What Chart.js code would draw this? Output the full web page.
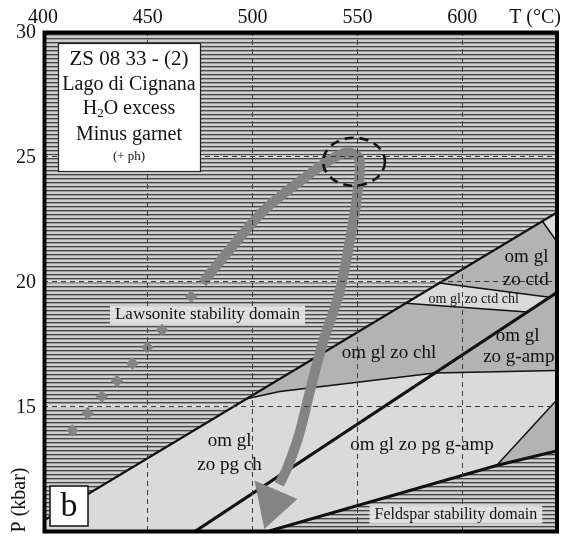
<!DOCTYPE html>
<html lang="en">
<head>
<meta charset="utf-8">
<title>P-T ZS 08 33</title>
<script src="https://cdn.jsdelivr.net/npm/chart.js@4.4.1/dist/chart.umd.min.js"></script>
<style>
  html, body { margin: 0; padding: 0; background: #fff; }
  .wrap { width: 563px; height: 550px; position: relative; }
</style>
</head>
<body>
<div class="wrap"><canvas id="chartPT" width="563" height="550"></canvas></div>
<script>
//Ejes
const T_MIN = 400, T_MAX = 645;
const P_MIN = 10, P_MAX = 30;
const tempTicks = [400, 450, 500, 550, 600];
const presTicks = [10, 15, 20, 25, 30];
const gridP = [15, 20, 25];

//Limites de campos [T °C, P kbar]
const lawsoniteOut = [[400, 10.4], [645, 22.73]];
const thickReaction = [[472.8, 10], [645, 19.53]];
const feldsparIn = [[508, 10], [616.4, 12.62], [645, 13.2]];
const chlOut = [[497.1, 15.29], [513, 15.58], [587, 16.32], [645, 16.42]];
const ctdChlLow = [[573, 19.11], [631, 18.76]];
const ctdChlHigh = [[589.2, 19.92], [641.7, 19.35]];
const cornerTop = [[638.3, 22.39], [645, 21.6]];
const cornerLow = [[616.4, 12.62], [645, 15.23]];

//Campos rellenos
const fieldLight = [[400, 10], [400, 10.4], [645, 22.73], [645, 13.2], [616.4, 12.62], [508, 10]];
const fieldChl = [[497.1, 15.29], [573, 19.11], [631, 18.76], [587, 16.32], [513, 15.58]];
const fieldCtd = [[589.2, 19.92], [638.3, 22.39], [645, 21.6], [645, 19.53], [641.7, 19.35]];
const fieldGamp = [[587, 16.32], [645, 19.53], [645, 16.42]];
const fieldCorner = [[616.4, 12.62], [645, 15.23], [645, 13.2]];

//Trayectoria P-T
const progradeDots = [[414.1, 14.02], [421.3, 14.71], [428.1, 15.38], [435.3, 16.0], [442.7, 16.7],
  [449.8, 17.35], [456.8, 18.04], [463.7, 18.72], [470.7, 19.38]];
const ptPath = [[476.1, 19.92], [491.3, 21.48], [505.6, 22.84], [522.3, 23.97], [536.5, 24.82],
  [545.1, 25.14], [550.8, 24.9], [549.9, 23.42], [546.1, 21.48], [541.4, 19.53], [533.7, 17.59],
  [527.5, 15.64], [522.3, 13.89], [516.6, 12.53], [512.7, 11.87]];
const arrowHead = [[500.9, 12.02], [505.6, 10.08], [521.4, 11.28]];
const peak = { t: 548.4, p: 24.77, halfT: 14.75, halfP: 0.96 };

//Etiquetas de campos [texto, T, P]
const fieldLabels = [
  ["om gl", 630.7, 20.97], ["zo ctd", 630.3, 20.04],
  ["om gl zo chl", 565.1, 17.12],
  ["om gl", 626.5, 17.78], ["zo g-amp", 627, 16.96],
  ["om gl zo pg g-amp", 580.8, 13.42],
  ["om gl", 489, 13.58], ["zo pg ch", 489, 12.65],
];
const thinLabel = ["om gl zo ctd chl", 605.5, 19.26];
const domainLabels = [
  ["Lawsonite stability domain", 478.5, 18.64],
  ["Feldspar stability domain", 597, 10.66],
];
const sampleLines = ["ZS 08 33 - (2)", "Lago di Cignana", "H2O excess", "Minus garnet", "(+ ph)"];

const SERIF = '"Liberation Serif", "Times New Roman", serif';
const LIGHT = "#dadada", MEDIUM = "#b3b3b3", PATH = "#848484";

const toXY = (pts) => pts.map(([x, y]) => ({ x, y }));

const polyDs = (pts, color, order) => ({
  data: toXY(pts), backgroundColor: color, borderColor: "rgba(0,0,0,0)", borderWidth: 0,
  fill: "shape", pointRadius: 0, tension: 0, order
});

const lineDs = (pts, width, order) => ({
  data: toXY(pts), borderColor: "#111", borderWidth: width, fill: false,
  pointRadius: 0, tension: 0, order
});

//Patron de rayas horizontales
const makeStripes = (ctx) => {
  const c = document.createElement("canvas");
  c.width = 4; c.height = 4;
  const g = c.getContext("2d");
  ["#d0d0d0", "#cbcbcb", "#464646", "#9c9c9c"].forEach((col, i) => {
    g.fillStyle = col;
    g.fillRect(0, i, 4, 1);
  });
  return ctx.createPattern(c, "repeat");
};

const backdrop = {
  id: "backdrop",
  beforeDraw(chart) {
    const { ctx, chartArea: a, scales: { y } } = chart;
    ctx.save();
    ctx.fillStyle = makeStripes(ctx);
    ctx.fillRect(a.left, a.top, a.right - a.left, a.bottom - a.top);
    //lineas claras bajo las isobaras
    ctx.strokeStyle = "#e4e4e4";
    ctx.lineWidth = 2;
    gridP.forEach((p) => {
      const yy = Math.round(y.getPixelForValue(p)) + 0.5;
      ctx.beginPath();
      ctx.moveTo(a.left, yy);
      ctx.lineTo(a.right, yy);
      ctx.stroke();
    });
    ctx.restore();
  }
};

const text = (ctx, str, x, y, size, align = "center") => {
  ctx.font = `${size}px ${SERIF}`;
  ctx.textAlign = align;
  ctx.textBaseline = "middle";
  ctx.fillStyle = "#111";
  ctx.fillText(str, x, y);
};

const overlay = {
  id: "overlay",
  afterDraw(chart) {
    const { ctx, chartArea: a, scales: { x, y } } = chart;
    const px = (t) => x.getPixelForValue(t);
    const py = (p) => y.getPixelForValue(p);
    ctx.save();

    //Elipse del pico
    ctx.beginPath();
    ctx.setLineDash([9, 6]);
    ctx.lineWidth = 2.6;
    ctx.strokeStyle = "#111";
    ctx.ellipse(px(peak.t), py(peak.p), px(peak.t + peak.halfT) - px(peak.t),
      py(peak.p) - py(peak.p + peak.halfP), 0, 0, Math.PI * 2);
    ctx.stroke();
    ctx.setLineDash([]);

    //Etiquetas de campos
    fieldLabels.forEach(([s, t, p]) => text(ctx, s, px(t), py(p), 19));
    text(ctx, thinLabel[0], px(thinLabel[1]), py(thinLabel[2]), 14);

    //Dominios con fondo claro
    domainLabels.forEach(([s, t, p], i) => {
      const size = i === 0 ? 17 : 16;
      ctx.font = `${size}px ${SERIF}`;
      const w = ctx.measureText(s).width + 10;
      ctx.fillStyle = "rgba(226,226,226,0.95)";
      ctx.fillRect(px(t) - w / 2, py(p) - 9, w, 18);
      text(ctx, s, px(t), py(p), size);
    });

    //Recuadro de la muestra
    const bx = a.left + 15, by = a.top + 12, bw = 142, bh = 128;
    ctx.fillStyle = "#fff";
    ctx.fillRect(bx, by, bw, bh);
    ctx.strokeStyle = "#222";
    ctx.lineWidth = 1.2;
    ctx.strokeRect(bx + 0.5, by + 0.5, bw, bh);
    const cx = bx + bw / 2;
    text(ctx, sampleLines[0], cx, by + 16, 21);
    text(ctx, sampleLines[1], cx, by + 42, 20);
    //H2O con subindice
    ctx.font = `20px ${SERIF}`;
    const wH = ctx.measureText("H").width, wO = ctx.measureText("O excess").width;
    ctx.font = `13px ${SERIF}`;
    const w2 = ctx.measureText("2").width;
    const x0 = cx - (wH + w2 + wO) / 2;
    text(ctx, "H", x0, by + 66, 20, "left");
    text(ctx, "2", x0 + wH, by + 71, 13, "left");
    text(ctx, "O excess", x0 + wH + w2, by + 66, 20, "left");
    text(ctx, sampleLines[3], cx, by + 92, 20);
    text(ctx, sampleLines[4], cx, by + 114, 13);

    //Letra del panel
    const lx = a.left + 7, ly = a.bottom - 45;
    ctx.fillStyle = "#fff";
    ctx.fillRect(lx, ly, 38, 40);
    ctx.strokeStyle = "#111";
    ctx.lineWidth = 1.5;
    ctx.strokeRect(lx, ly, 38, 40);
    text(ctx, "b", lx + 19, ly + 21, 34);

    //Marco
    ctx.lineWidth = 4;
    ctx.strokeStyle = "#000";
    ctx.strokeRect(a.left + 1.5, a.top + 1.5, a.right - a.left - 1, a.bottom - a.top - 1);

    //Titulos de ejes
    text(ctx, "T (°C)", 561, 18, 20, "right");
    ctx.translate(20, 500);
    ctx.rotate(-Math.PI / 2);
    text(ctx, "P (kbar)", 0, 0, 20);
    ctx.restore();
  }
};

const tickFont = { family: SERIF, size: 20 };

new Chart(document.getElementById("chartPT"), {
  type: "line",
  data: {
    datasets: [
      polyDs(fieldLight, LIGHT, 100),
      polyDs(fieldChl, MEDIUM, 90),
      polyDs(fieldCtd, MEDIUM, 90),
      polyDs(fieldGamp, MEDIUM, 90),
      polyDs(fieldCorner, MEDIUM, 90),
      lineDs(chlOut, 1.5, 60),
      lineDs(ctdChlLow, 1.5, 60),
      lineDs(ctdChlHigh, 1.5, 60),
      lineDs(cornerTop, 1.5, 60),
      lineDs(cornerLow, 1.5, 60),
      lineDs(lawsoniteOut, 2.3, 50),
      lineDs(thickReaction, 3.2, 50),
      lineDs(feldsparIn, 3, 50),
      {
        data: toXY(progradeDots), showLine: false, pointStyle: "rectRot", pointRadius: 6,
        pointBackgroundColor: PATH, pointBorderColor: PATH, pointBorderWidth: 0.5, order: 20
      },
      {
        data: toXY(ptPath), borderColor: PATH, borderWidth: 10, tension: 0.3,
        borderCapStyle: "butt", borderJoinStyle: "round", pointRadius: 0, fill: false, order: 15
      },
      polyDs(arrowHead, PATH, 10),
    ]
  },
  options: {
    responsive: false,
    animation: false,
    events: [],
    layout: { padding: { top: 0, left: 0, right: 5, bottom: 5 } },
    plugins: { legend: { display: false }, tooltip: { enabled: false } },
    scales: {
      x: {
        type: "linear", position: "top", min: T_MIN, max: T_MAX,
        afterFit: (s) => { s.height = 31; },
        afterBuildTicks: (s) => { s.ticks = tempTicks.map((v) => ({ value: v })); },
        grid: {
          z: 1, drawTicks: false, lineWidth: 1,
          color: (c) => (c.tick && c.tick.value > T_MIN ? "#3a3a3a" : "rgba(0,0,0,0)")
        },
        border: { display: false, dash: [5, 4] },
        ticks: { padding: 1, color: "#111", font: tickFont, autoSkip: false, maxRotation: 0 }
      },
      y: {
        type: "linear", position: "left", min: P_MIN, max: P_MAX,
        afterFit: (s) => { s.width = 43; },
        afterBuildTicks: (s) => { s.ticks = presTicks.map((v) => ({ value: v })); },
        grid: {
          z: 1, drawTicks: false, lineWidth: 1,
          color: (c) => (c.tick && c.tick.value > P_MIN && c.tick.value < P_MAX ? "#3a3a3a" : "rgba(0,0,0,0)")
        },
        border: { display: false, dash: [5, 4] },
        ticks: {
          padding: 7, labelOffset: 2, color: "#111", font: tickFont, autoSkip: false,
          callback: (v) => (v === P_MIN ? "" : v)
        }
      }
    }
  },
  plugins: [backdrop, overlay]
});
</script>
</body>
</html>
